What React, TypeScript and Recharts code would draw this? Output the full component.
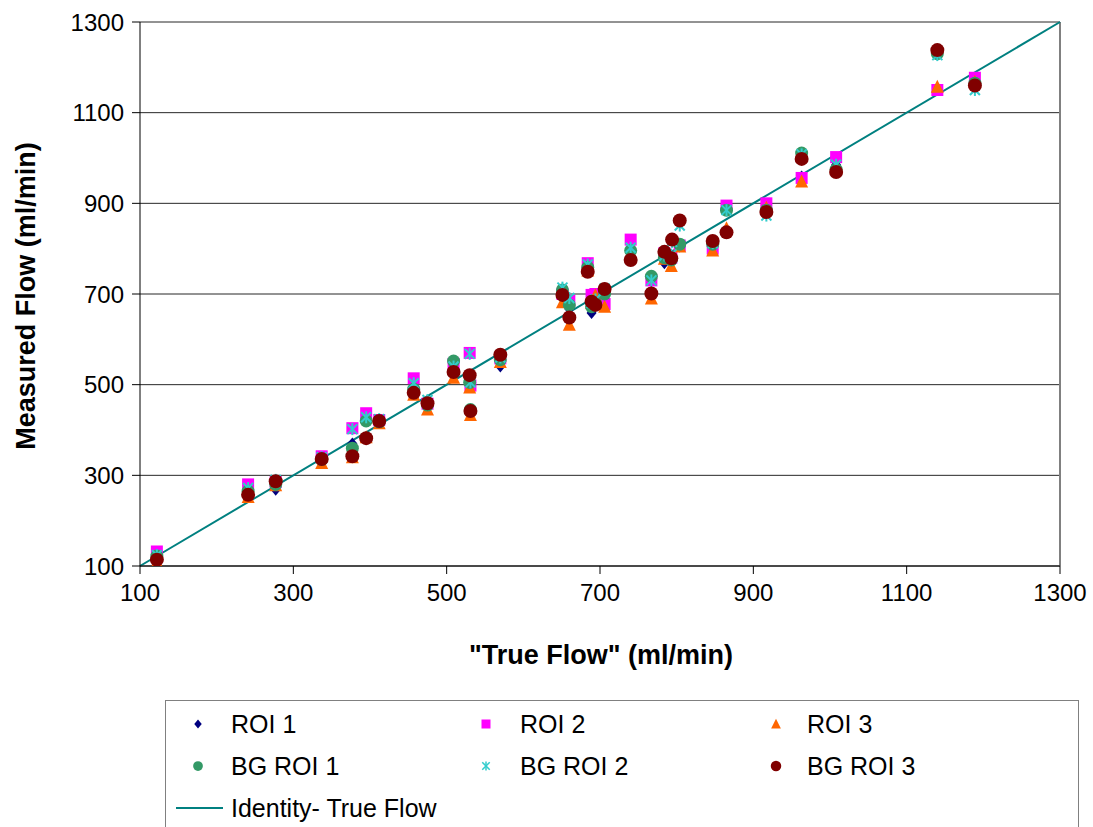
import React from 'react';
import {
  ScatterChart,
  Scatter,
  XAxis,
  YAxis,
  CartesianGrid,
  ReferenceLine,
} from 'recharts';

// "True Flow" (ml/min), one entry per measurement row
const TRUE_FLOW = [
  122, 241, 277, 337, 377, 395, 412, 457, 475, 509, 530, 531, 570, 651, 660, 684,
  689, 694, 706, 740, 767, 784, 793, 794, 804, 847, 865, 917, 963, 1008, 1140, 1189,
];

// measured flow per series (null = no point)
const ROI_1 = [
  125, 268, 268, 338, 370, 425, 418, 505, 450, 540, 500, 440, 540, 695, 667, 755,
  658, 675, 680, 815, 728, 768, 770, null, 805, 800, 840, 890, 959, 985, 1152, 1170,
];
const ROI_2 = [
  132, 280, 285, 342, 404, 437, 422, 514, 458, 546, 570, 498, 558, 700, 685, 768,
  698, 700, 678, 820, 730, 790, 780, null, 807, 800, 895, 900, 956, 1002, 1150, 1177,
];
const ROI_3 = [
  108, 252, 278, 327, 340, 384, 415, 478, 445, 515, 494, 433, 550, 682, 632, 752,
  680, 697, 672, 790, 690, 778, 762, null, 805, 796, 845, 890, 948, 978, 1157, 1168,
];
const BG_ROI_1 = [
  122, 265, 280, 335, 360, 420, 418, 490, 455, 552, 505, 445, 555, 709, 676, 759,
  672, 680, 700, 796, 739, 780, 775, null, 810, 810, 885, 885, 1011, 975, 1230, 1165,
];
const BG_ROI_2 = [
  124, 272, 290, 340, 402, 428, 424, 503, 466, 540, 568, 505, 560, 714, 691, 765,
  680, 688, 712, 802, 730, 785, 787, 815, 851, 812, 885, 873, 1008, 985, 1227, 1150,
];
const BG_ROI_3 = [
  114, 257, 287, 336, 342, 382, 420, 482, 459, 528, 521, 442, 566, 698, 648, 749,
  683, 676, 711, 775, 701, 793, 779, 820, 862, 817, 836, 881, 998, 969, 1238, 1160,
];

const AXIS_TICKS = [100, 300, 500, 700, 900, 1100, 1300];
const IDENTITY = [100, 1300];

const FONT = '"Liberation Sans", Arial, sans-serif';

const toPoints = (values: (number | null)[]) =>
  TRUE_FLOW.map((x, i) => ({ x, y: values[i] })).filter((p) => p.y !== null);

// marker shapes
const Diamond = ({ cx, cy }: any) => (
  <polygon
    points={`${cx},${cy - 6} ${cx + 5},${cy} ${cx},${cy + 6} ${cx - 5},${cy}`}
    fill="#000080"
  />
);
const Square = ({ cx, cy }: any) => (
  <rect x={cx - 6} y={cy - 6} width={12} height={12} fill="#FF00FF" />
);
const Triangle = ({ cx, cy }: any) => (
  <polygon
    points={`${cx},${cy - 7} ${cx + 6.5},${cy + 6} ${cx - 6.5},${cy + 6}`}
    fill="#FF6600"
  />
);
const GreenDot = ({ cx, cy }: any) => <circle cx={cx} cy={cy} r={6.5} fill="#339966" />;
const Star = ({ cx, cy }: any) => (
  <g stroke="#33CCCC" strokeWidth={2}>
    <line x1={cx - 5} y1={cy - 5} x2={cx + 5} y2={cy + 5} />
    <line x1={cx - 5} y1={cy + 5} x2={cx + 5} y2={cy - 5} />
    <line x1={cx} y1={cy - 6} x2={cx} y2={cy + 6} />
  </g>
);
const RedDot = ({ cx, cy }: any) => <circle cx={cx} cy={cy} r={7} fill="#800000" />;

const SERIES = [
  { name: 'ROI 1', values: ROI_1, Shape: Diamond },
  { name: 'ROI 2', values: ROI_2, Shape: Square },
  { name: 'ROI 3', values: ROI_3, Shape: Triangle },
  { name: 'BG ROI 1', values: BG_ROI_1, Shape: GreenDot },
  { name: 'BG ROI 2', values: BG_ROI_2, Shape: Star },
  { name: 'BG ROI 3', values: BG_ROI_3, Shape: RedDot },
];

const YTitle = () => (
  <text
    x={26}
    y={296}
    transform="rotate(-90 26 296)"
    textAnchor="middle"
    dominantBaseline="central"
    fontFamily={FONT}
    fontWeight="bold"
    fontSize={27}
    fill="#000"
  >
    Measured Flow (ml/min)
  </text>
);

const XTitle = () => (
  <text
    x={601}
    y={655}
    textAnchor="middle"
    dominantBaseline="central"
    fontFamily={FONT}
    fontWeight="bold"
    fontSize={27}
    fill="#000"
  >
    "True Flow" (ml/min)
  </text>
);

function ChartLegend() {
  const cols = [32, 320, 610];
  const textCols = [65, 354, 641];
  const rows = [23, 65];
  return (
    <div
      style={{
        position: 'absolute',
        left: 165,
        top: 700,
        width: 914,
        height: 140,
        border: '1px solid #808080',
        boxSizing: 'border-box',
      }}
    >
      <svg width={914} height={140} style={{ display: 'block' }}>
        {SERIES.map((s, i) => {
          const col = i % 3;
          const row = Math.floor(i / 3);
          const { Shape } = s;
          const mx = cols[col];
          const my = rows[row];
          return (
            <g key={s.name}>
              <g transform={`translate(${mx} ${my}) scale(0.75)`}>
                <Shape cx={0} cy={0} />
              </g>
              <text
                x={textCols[col]}
                y={my}
                dominantBaseline="central"
                fontFamily={FONT}
                fontSize={25}
                fill="#000"
              >
                {s.name}
              </text>
            </g>
          );
        })}
        <line x1={10} y1={107} x2={57} y2={107} stroke="#008080" strokeWidth={2} />
        <text x={65} y={107} dominantBaseline="central" fontFamily={FONT} fontSize={25} fill="#000">
          Identity- True Flow
        </text>
      </svg>
    </div>
  );
}

export default function App() {
  return (
    <div
      style={{
        position: 'absolute',
        left: 0,
        top: 0,
        width: 1093,
        height: 827,
        background: '#fff',
        overflow: 'hidden',
      }}
    >
      <ScatterChart
        width={1093}
        height={700}
        margin={{ top: 22, right: 33, left: 0, bottom: 0 }}
      >
        <CartesianGrid vertical={false} stroke="#000" strokeOpacity={0.85} />
        <XAxis
          type="number"
          dataKey="x"
          domain={[100, 1300]}
          ticks={AXIS_TICKS}
          allowDataOverflow
          height={134}
          stroke="#000"
          tickSize={8}
          tickMargin={10}
          tick={{ fill: '#000', fontSize: 24, fontFamily: FONT }}
        />
        <YAxis
          type="number"
          dataKey="y"
          domain={[100, 1300]}
          ticks={AXIS_TICKS}
          allowDataOverflow
          width={140}
          stroke="#000"
          tickSize={8}
          tickMargin={8}
          tick={{ fill: '#000', fontSize: 24, fontFamily: FONT }}
        />
        <ReferenceLine x={1300} stroke="#808080" strokeWidth={2} />
        <ReferenceLine
          segment={[
            { x: IDENTITY[0], y: IDENTITY[0] },
            { x: IDENTITY[1], y: IDENTITY[1] },
          ]}
          stroke="#008080"
          strokeWidth={2}
        />
        {SERIES.map((s) => (
          <Scatter
            key={s.name}
            name={s.name}
            data={toPoints(s.values)}
            shape={s.Shape}
            isAnimationActive={false}
          />
        ))}
        <YTitle />
        <XTitle />
      </ScatterChart>
      <ChartLegend />
    </div>
  );
}
